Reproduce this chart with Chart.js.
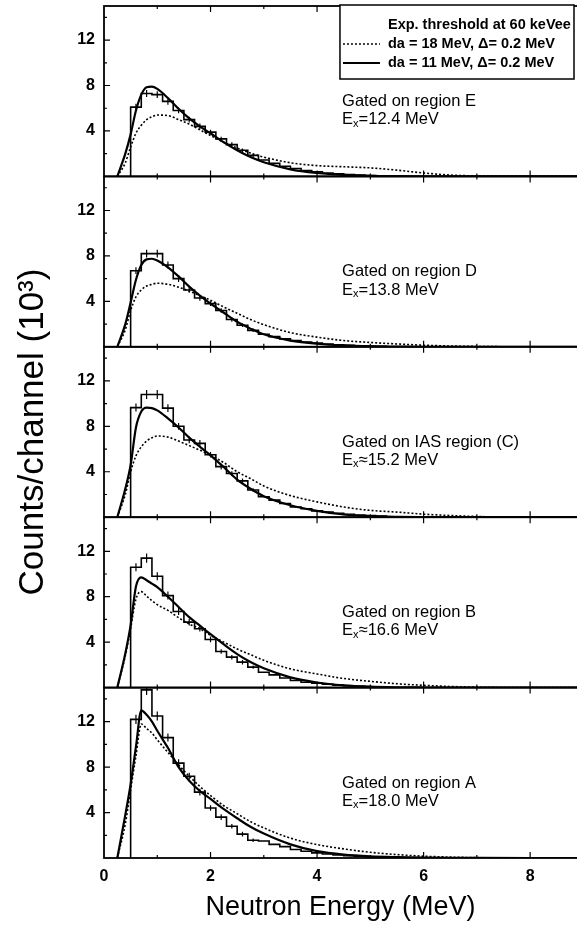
<!DOCTYPE html>
<html>
<head>
<meta charset="utf-8">
<script src="https://cdn.jsdelivr.net/npm/chart.js@4.4.0/dist/chart.umd.min.js"></script>
<style>
html,body{margin:0;padding:0;background:#fff;overflow:hidden}
#wrap{position:relative;width:577px;height:927px}
</style>
</head>
<body>
<div id="wrap"><canvas id="c" width="577" height="927"></canvas></div>
<script>
// ---------------- data ----------------
const panelIds = ['A', 'B', 'C', 'D', 'E'];           // bottom to top
const panelTitles = {
  E: 'Gated on region E', D: 'Gated on region D', C: 'Gated on IAS region (C)',
  B: 'Gated on region B', A: 'Gated on region A'
};
const panelEx = { E: '=12.4 MeV', D: '=13.8 MeV', C: '\u224815.2 MeV', B: '\u224816.6 MeV', A: '=18.0 MeV' };

const xTicks = [0, 2, 4, 6, 8];
const xMinorTicks = [1, 3, 5, 7];
const yTicks = [4, 8, 12];
const yMinorTicks = [2, 6, 10, 14];

const legendLines = ['Exp. threshold at 60 keVee', 'da = 18 MeV, \u0394= 0.2 MeV', 'da = 11 MeV, \u0394= 0.2 MeV'];

// histogram bin edges (MeV)
const binEdges = [0.5, 0.7, 0.9, 1.1, 1.3, 1.5, 1.7, 1.9, 2.1, 2.3, 2.5, 2.7, 2.9, 3.1, 3.3, 3.5, 3.7, 3.9, 4.1, 4.3, 4.5, 4.7, 4.9, 5.1, 5.3];

// experimental histograms (counts/channel, 10^3)
const histE = [6.1, 7.3, 7.2, 6.6, 5.8, 5.0, 4.4, 3.9, 3.3, 2.8, 2.3, 1.85, 1.45, 1.15, 0.9, 0.7, 0.52, 0.4, 0.3, 0.22, 0.16, 0.12, 0.08, 0.05];
const histD = [6.7, 8.2, 8.2, 7.2, 6.0, 5.0, 4.3, 3.8, 3.2, 2.4, 1.9, 1.45, 1.1, 0.9, 0.7, 0.55, 0.42, 0.32, 0.24, 0.18, 0.13, 0.09, 0.06, 0.04];
const histC = [9.65, 10.8, 10.8, 9.6, 8.0, 6.8, 6.5, 5.5, 4.45, 3.85, 3.2, 2.4, 1.8, 1.5, 1.2, 0.9, 0.75, 0.56, 0.45, 0.35, 0.25, 0.2, 0.15, 0.1];
const histB = [10.6, 11.4, 9.8, 8.1, 6.7, 5.76, 5.18, 4.24, 3.18, 2.68, 2.24, 1.8, 1.35, 1.12, 0.85, 0.62, 0.47, 0.38, 0.3, 0.22, 0.16, 0.12, 0.08, 0.05];
const histA = [12.2, 14.8, 12.5, 10.6, 8.35, 7.2, 5.8, 4.4, 3.6, 2.8, 2.1, 1.56, 1.5, 1.2, 1.0, 0.75, 0.6, 0.45, 0.35, 0.27, 0.2, 0.15, 0.1, 0.07];

// error bars on the first bins
const errE = [0.3, 0.3, 0.3, 0.3, 0.25, 0.25, 0.25, 0.2, 0.2, 0.2, 0.15, 0.15];
const errD = [0.3, 0.35, 0.35, 0.3, 0.3, 0.25, 0.25, 0.2, 0.2, 0.2, 0.15, 0.15];
const errC = [0.35, 0.4, 0.4, 0.35, 0.3, 0.3, 0.3, 0.25, 0.25, 0.2, 0.2, 0.15];
const errB = [0.35, 0.4, 0.35, 0.35, 0.3, 0.3, 0.25, 0.25, 0.2, 0.2, 0.2, 0.15];
const errA = [0.4, 0.45, 0.4, 0.35, 0.35, 0.3, 0.3, 0.25, 0.25, 0.2, 0.2, 0.15];

// calculated curves
const curveX = [0.25, 0.4, 0.5, 0.6, 0.7, 0.8, 0.9, 1.0, 1.2, 1.4, 1.6, 1.8, 2.0, 2.25, 2.5, 2.75, 3.0, 3.5, 4.0, 4.5, 5.0, 5.5, 6.0, 6.5, 7.0, 8.0, 8.9];
// da = 11 MeV (solid)
const solidE = [0, 2.0, 3.7, 5.8, 7.2, 7.85, 7.9, 7.7, 6.9, 5.95, 5.1, 4.4, 3.8, 3.0, 2.3, 1.7, 1.25, 0.62, 0.3, 0.13, 0.05, 0.02, 0.01, 0, 0, 0, 0];
const solidD = [0, 2.0, 3.9, 5.9, 7.2, 7.7, 7.75, 7.6, 7.0, 6.2, 5.3, 4.5, 3.8, 3.0, 2.2, 1.6, 1.1, 0.55, 0.27, 0.12, 0.05, 0.02, 0, 0, 0, 0, 0];
const solidC = [0, 2.5, 4.6, 7.9, 9.3, 9.65, 9.6, 9.4, 8.7, 7.9, 7.0, 6.2, 5.45, 4.4, 3.3, 2.5, 1.85, 1.05, 0.55, 0.24, 0.09, 0.03, 0.01, 0, 0, 0, 0];
const solidB = [0, 3.0, 5.5, 8.9, 9.7, 9.45, 9.15, 8.85, 8.0, 7.1, 6.2, 5.45, 4.7, 3.8, 2.95, 2.25, 1.7, 0.9, 0.45, 0.2, 0.08, 0.03, 0.01, 0, 0, 0, 0];
const solidA = [0, 3.8, 6.5, 9.8, 13.0, 12.6, 12.0, 11.2, 9.7, 8.0, 6.8, 5.9, 5.2, 4.3, 3.5, 2.75, 2.15, 1.2, 0.6, 0.3, 0.15, 0.08, 0.04, 0.02, 0.01, 0, 0];
// da = 18 MeV (dotted)
const dottedE = [0, 1.2, 2.6, 3.8, 4.5, 5.0, 5.25, 5.4, 5.35, 5.0, 4.6, 4.1, 3.6, 3.0, 2.5, 2.05, 1.7, 1.2, 0.95, 0.85, 0.75, 0.55, 0.3, 0.12, 0.04, 0, 0];
const dottedD = [0, 1.5, 3.2, 4.4, 5.0, 5.35, 5.5, 5.6, 5.5, 5.25, 4.9, 4.5, 4.1, 3.5, 2.95, 2.4, 1.95, 1.25, 0.85, 0.55, 0.38, 0.25, 0.14, 0.07, 0.03, 0, 0];
const dottedC = [0, 2.0, 4.0, 5.4, 6.2, 6.7, 7.0, 7.15, 7.05, 6.7, 6.3, 5.9, 5.45, 4.8, 4.0, 3.4, 2.75, 1.9, 1.35, 0.9, 0.6, 0.45, 0.27, 0.15, 0.06, 0.01, 0];
const dottedB = [0, 2.8, 5.2, 7.8, 8.45, 8.05, 7.65, 7.3, 6.8, 6.15, 5.6, 5.18, 4.6, 4.0, 3.4, 2.9, 2.4, 1.65, 1.2, 0.8, 0.55, 0.34, 0.2, 0.1, 0.04, 0, 0];
const dottedA = [0, 3.0, 6.0, 9.0, 11.8, 11.4, 11.0, 10.4, 9.3, 8.2, 7.2, 6.3, 5.5, 4.6, 3.9, 3.2, 2.65, 1.75, 1.18, 0.8, 0.5, 0.3, 0.16, 0.08, 0.03, 0, 0];

const histData = { A: histA, B: histB, C: histC, D: histD, E: histE };
const errData = { A: errA, B: errB, C: errC, D: errD, E: errE };
const solidData = { A: solidA, B: solidB, C: solidC, D: solidD, E: solidE };
const dottedData = { A: dottedA, B: dottedB, C: dottedC, D: dottedD, E: dottedE };

// ---------------- build datasets ----------------
function histPoints(vals) {
  const pts = [{ x: binEdges[0], y: 0 }];
  vals.forEach((v, i) => pts.push({ x: binEdges[i], y: v }));
  const last = binEdges[vals.length];
  pts.push({ x: last, y: vals[vals.length - 1] });
  pts.push({ x: last, y: 0 });
  return pts;
}
function errPoints(vals, errs) {
  const pts = [];
  errs.forEach((e, i) => {
    const c = (binEdges[i] + binEdges[i + 1]) / 2;
    pts.push({ x: c, y: vals[i] - e }, { x: c, y: vals[i] + e }, { x: c, y: null });
  });
  return pts;
}
function curvePoints(vals) { return curveX.map((x, i) => ({ x: x, y: vals[i] })); }

const datasets = [];
panelIds.forEach(id => {
  const ax = 'y' + id;
  datasets.push({ label: 'hist ' + id, data: histPoints(histData[id]), yAxisID: ax, stepped: 'before',
    borderColor: '#000', borderWidth: 1.6, pointRadius: 0, fill: false });
  datasets.push({ label: 'err ' + id, data: errPoints(histData[id], errData[id]), yAxisID: ax, spanGaps: false,
    borderColor: '#000', borderWidth: 1.2, pointRadius: 0, fill: false });
  datasets.push({ label: 'da18 ' + id, data: curvePoints(dottedData[id]), yAxisID: ax, cubicInterpolationMode: 'monotone',
    borderColor: '#000', borderWidth: 1.6, borderDash: [2, 2], pointRadius: 0, fill: false });
  datasets.push({ label: 'da11 ' + id, data: curvePoints(solidData[id]), yAxisID: ax, cubicInterpolationMode: 'monotone',
    borderColor: '#000', borderWidth: 2.2, pointRadius: 0, fill: false });
});

const FONT = '"Liberation Sans", Arial, Helvetica, sans-serif';

const scales = {
  x: {
    type: 'linear', position: 'bottom', min: 0, max: 8.88,
    grid: { display: false, drawTicks: false }, border: { display: false },
    afterBuildTicks: s => { s.ticks = xTicks.map(v => ({ value: v })); },
    afterFit: s => { s.height = 69; s.paddingLeft = 0; s.paddingRight = 0; },
    ticks: { color: '#000', font: { family: FONT, size: 16, weight: 'bold' }, padding: 9, maxRotation: 0, autoSkip: false },
    title: { display: true, text: 'Neutron Energy (MeV)', color: '#000', font: { family: FONT, size: 27 }, padding: { top: 0, bottom: 3 } }
  }
};
panelIds.forEach((id, i) => {
  scales['y' + id] = {
    type: 'linear', position: 'left', stack: 'panels', stackWeight: 1, weight: i + 1,
    min: 0, max: 15, offset: false,
    grid: { display: false, drawTicks: false }, border: { display: false },
    afterBuildTicks: s => { s.ticks = yTicks.map(v => ({ value: v })); },
    afterFit: s => { s.width = 104; s.paddingTop = 0; s.paddingBottom = 0; },
    ticks: { color: '#000', font: { family: FONT, size: 16, weight: 'bold' }, padding: 9 },
    title: id === 'C'
      ? { display: true, text: 'Counts/channel (10\u00B3)', color: '#000', font: { family: FONT, size: 35 }, padding: { top: 12, bottom: 0 } }
      : { display: false }
  };
});

const framePlugin = {
  id: 'frame',
  afterDatasetsDraw(chart) {
    const ctx = chart.ctx, area = chart.chartArea, xs = chart.scales.x;
    ctx.save();
    ctx.strokeStyle = '#000';
    ctx.fillStyle = '#000';
    panelIds.forEach(id => {
      const ys = chart.scales['y' + id];
      ctx.lineWidth = 1.8;
      ctx.strokeRect(area.left, ys.top, area.right - area.left + 2, ys.bottom - ys.top);
      ctx.lineWidth = 1.2;
      ctx.beginPath();
      xTicks.concat(xMinorTicks).forEach(v => {
        if (v === 0) return;
        const len = xTicks.includes(v) ? 6 : 3;
        const px = xs.getPixelForValue(v);
        ctx.moveTo(px, ys.bottom); ctx.lineTo(px, ys.bottom - len);
        ctx.moveTo(px, ys.top); ctx.lineTo(px, ys.top + len);
      });
      yTicks.concat(yMinorTicks).forEach(v => {
        const len = yTicks.includes(v) ? 6 : 3;
        const py = ys.getPixelForValue(v);
        ctx.moveTo(area.left, py); ctx.lineTo(area.left + len, py);
      });
      ctx.stroke();

      // annotation text
      const tx = xs.getPixelForValue(4.47);
      ctx.textBaseline = 'middle';
      ctx.textAlign = 'left';
      ctx.font = '16.5px ' + FONT;
      ctx.fillText(panelTitles[id], tx, ys.getPixelForValue(6.6));
      const y2 = ys.getPixelForValue(5.0);
      ctx.fillText('E', tx, y2);
      const wE = ctx.measureText('E').width;
      ctx.font = '11px ' + FONT;
      ctx.fillText('x', tx + wE, y2 + 4);
      const wx = ctx.measureText('x').width;
      ctx.font = '16.5px ' + FONT;
      ctx.fillText(panelEx[id], tx + wE + wx, y2);
    });

    // legend box in top panel
    const yt = chart.scales.yE;
    const bx = xs.getPixelForValue(4.43), by = yt.top - 1;
    const bw = area.right - 3 - bx, bh = 74;
    ctx.fillStyle = '#fff';
    ctx.fillRect(bx, by, bw, bh);
    ctx.lineWidth = 1.5;
    ctx.strokeStyle = '#000';
    ctx.strokeRect(bx, by, bw, bh);
    ctx.fillStyle = '#000';
    ctx.font = 'bold 14.5px ' + FONT;
    ctx.textAlign = 'left';
    ctx.textBaseline = 'middle';
    const textX = bx + 48;
    const rows = [by + 20, by + 39, by + 58];
    legendLines.forEach((t, i) => ctx.fillText(t, textX, rows[i]));
    ctx.lineWidth = 1.5;
    ctx.setLineDash([2, 2]);
    ctx.beginPath(); ctx.moveTo(bx + 3, rows[1]); ctx.lineTo(bx + 40, rows[1]); ctx.stroke();
    ctx.setLineDash([]);
    ctx.lineWidth = 2;
    ctx.beginPath(); ctx.moveTo(bx + 3, rows[2]); ctx.lineTo(bx + 40, rows[2]); ctx.stroke();
    ctx.restore();
  }
};

new Chart(document.getElementById('c'), {
  type: 'line',
  data: { datasets: datasets },
  options: {
    responsive: false, animation: false, devicePixelRatio: 1,
    layout: { padding: { top: 6, left: 0, right: 0, bottom: 0 } },
    plugins: { legend: { display: false }, tooltip: { enabled: false } },
    scales: scales
  },
  plugins: [framePlugin]
});
</script>
</body>
</html>
